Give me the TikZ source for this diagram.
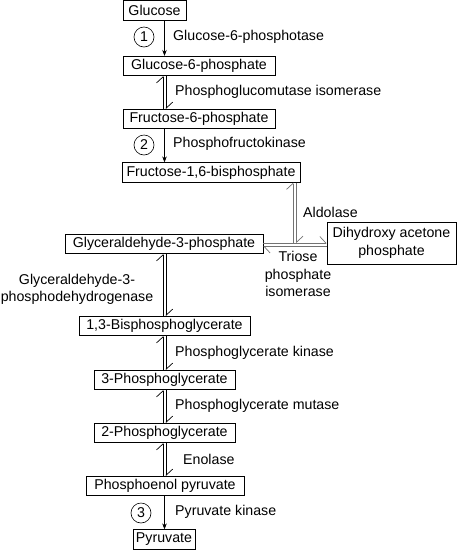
\documentclass[tikz,border=0pt]{standalone}
\usepackage{fontspec}
\setmainfont{Liberation Sans}
\usetikzlibrary{arrows.meta}
\begin{document}
\begin{tikzpicture}[x=1pt,y=-1pt,
  txt/.style={font=\fontsize{14.2}{17.5}\selectfont},
  box/.style={txt, draw, line width=0.7pt, inner sep=0pt, minimum height=19.5pt},
  lab/.style={txt, anchor=west, inner sep=0pt},
  num/.style={txt, draw, circle, line width=0.6pt, minimum size=20pt, inner sep=0pt},
  ln/.style={line width=0.7pt},
  fwd/.style={ln, -{Stealth[length=6pt,width=4.5pt]}},
  hp/.style={ln, -{Straight Barb[harpoon,length=6pt,width=13pt,line width=0.7pt]}},
  grayln/.style={draw=black!55}
]
\useasboundingbox (0,0) rectangle (458,550);
% nodes
\node[box, minimum width=63pt] (glu) at (154.5,10.5) {Glucose};
\node[box, minimum width=152pt] (g6p) at (199,66) {Glucose-6-phosphate};
\node[box, minimum width=152pt] (f6p) at (199,119) {Fructose-6-phosphate};
\node[box, minimum width=178pt] (f16) at (211,172.5) {Fructose-1,6-bisphosphate};
\node[box, minimum width=198pt] (gap) at (164,244) {Glyceraldehyde-3-phosphate};
\node[box, minimum width=129pt, minimum height=42pt, align=center] (dhap) at (391.5,243) {Dihydroxy acetone\\phosphate};
\node[box, minimum width=171pt] (bpg) at (164.5,326) {1,3-Bisphosphoglycerate};
\node[box, minimum width=141pt] (pg3) at (164.5,380) {3-Phosphoglycerate};
\node[box, minimum width=141pt] (pg2) at (164.5,433) {2-Phosphoglycerate};
\node[box, minimum width=158pt] (pep) at (165,486) {Phosphoenol pyruvate};
\node[box, minimum width=62pt] (pyr) at (164,539.5) {Pyruvate};
% guide coordinates
\coordinate (mx) at (164.5,0);
\coordinate (ml) at (163,0);
\coordinate (mr) at (166.2,0);
\coordinate (al) at (293,0);
\coordinate (ar) at (296.5,0);
\coordinate (ht) at (0,243);
\coordinate (hb) at (0,246.5);
% circled numbers
\node[num] (n1) at (144,37) {1};
\node[num] (n2) at (144,145) {2};
\node[num] (n3) at (141,513) {3};
% labels
\node[lab] (l1) at (173,37) {Glucose-6-phosphotase};
\node[lab] (l2) at (175,92) {Phosphoglucomutase isomerase};
\node[lab] (l3) at (173,144) {Phosphofructokinase};
\node[lab] (l4) at (303,212) {Aldolase};
\node[txt, align=center, inner sep=0pt] (l5) at (298,274) {Triose\\phosphate\\isomerase};
\node[txt, align=center, inner sep=0pt] (l6) at (77,289.5) {Glyceraldehyde-3-\\phosphodehydrogenase};
\node[lab] (l7) at (175,353) {Phosphoglycerate kinase};
\node[lab] (l8) at (175,406) {Phosphoglycerate mutase};
\node[lab] (l9) at (183,459) {Enolase};
\node[lab] (l10) at (175,512) {Pyruvate kinase};
% irreversible steps
\draw[fwd] (glu.south -| mx) -- (g6p.north -| mx);
\draw[fwd] (f6p.south -| mx) -- (f16.north -| mx);
\draw[fwd] (pep.south -| mx) -- (pyr.north -| mx);
% reversible steps (double harpoons)
\draw[hp] (f6p.north -| ml) -- (g6p.south -| ml);
\draw[hp] (g6p.south -| mr) -- (f6p.north -| mr);
\draw[hp] (bpg.north -| ml) -- (gap.south -| ml);
\draw[hp] (gap.south -| mr) -- (bpg.north -| mr);
\draw[hp] (pg3.north -| ml) -- (bpg.south -| ml);
\draw[hp] (bpg.south -| mr) -- (pg3.north -| mr);
\draw[hp] (pg2.north -| ml) -- (pg3.south -| ml);
\draw[hp] (pg3.south -| mr) -- (pg2.north -| mr);
\draw[hp] (pep.north -| ml) -- (pg2.south -| ml);
\draw[hp] (pg2.south -| mr) -- (pep.north -| mr);
% aldolase
\coordinate (aj) at (ht -| al);
\draw[hp, grayln] (aj) -- (f16.south -| al);
\draw[hp, grayln] (f16.south -| ar) -- (ht -| ar);
% triose phosphate isomerase
\draw[hp, grayln] (gap.east |- ht) -- (dhap.west |- ht);
\draw[hp, grayln] (dhap.west |- hb) -- (gap.east |- hb);
\end{tikzpicture}
\end{document}
